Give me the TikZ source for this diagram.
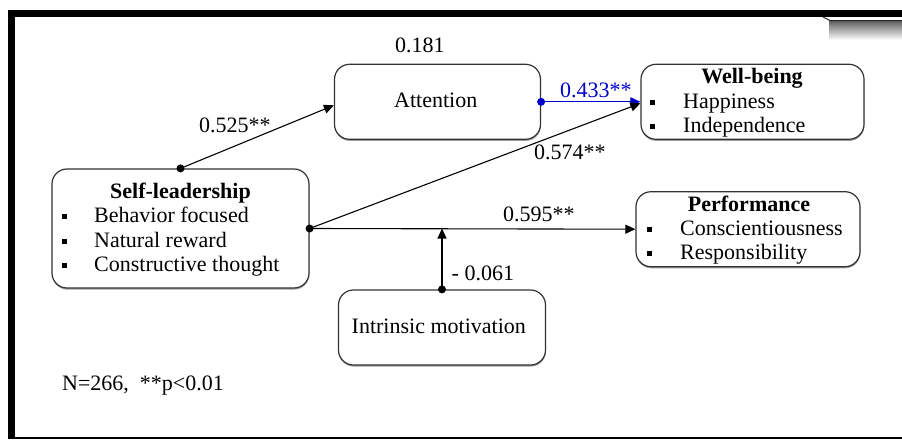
\documentclass[tikz,border=0pt]{standalone}
\usepackage{fontspec}
\setmainfont{Liberation Serif}
\usetikzlibrary{arrows.meta,shadows,calc}
\newcommand{\fsz}{\fontsize{22}{26}\selectfont}
\begin{document}
\begin{tikzpicture}[x=1pt,y=-1pt,
  box/.style={draw=black!80, line width=1.2pt, rounded corners=15pt, fill=white,
    drop shadow={shadow xshift=0.3pt, shadow yshift=-1.6pt, opacity=0.55, fill=black!70},
    inner sep=0pt},
  txt/.style={anchor=base west, inner sep=0pt, font=\fsz},
  ttl/.style={anchor=base, inner sep=0pt, font=\fsz\bfseries},
  lbl/.style={anchor=base west, inner sep=0pt, font=\fsz},
  bul/.style={fill=black, inner sep=0pt, minimum size=5pt},
  con/.style={line width=1.1pt, -{Triangle[length=10pt,width=9pt]}},
  dot/.style={circle, fill=#1, inner sep=0pt, minimum size=8pt},
  dot/.default=black]
\useasboundingbox (0,0) rectangle (902,439);
% frame
\fill[black] (7.5,10) rectangle (902,17);
\fill[black] (7.5,10) rectangle (15,439);
\fill[black] (7.5,436.5) rectangle (902,439);
% top-right artifact
\shade[top color=black!65, bottom color=white] (829,20) rectangle (902,40);
\draw[black!85, line width=1pt] (823,17) -- (830,20.5) -- (902,20.5);

% boxes
\node[box, minimum width=206pt, minimum height=75pt] (att) at (437.5,101.8) {};
\node[box, minimum width=223pt, minimum height=75pt] (wb) at (752.5,101.8) {};
\node[box, minimum width=224pt, minimum height=75pt] (perf) at (748,229.2) {};
\node[box, minimum width=257pt, minimum height=119pt] (sl) at (180.5,228.5) {};
\node[box, minimum width=207pt, minimum height=75pt] (im) at (442,327.5) {};

% texts
\node[txt] (attT) at (394,107.3) {Attention};
\node[txt] (imT) at (351.5,333.3) {Intrinsic motivation};

\node[ttl] (slT) at (180.5,198.3) {Self-leadership};
\node[bul] (b1) at (64.2,216.7) {};
\node[txt] (s1) at (94,222.7) {Behavior focused};
\node[bul] (b2) at (64.2,241.2) {};
\node[txt] (s2) at (94,247.2) {Natural reward};
\node[bul] (b3) at (64.2,265.7) {};
\node[txt] (s3) at (94,271.7) {Constructive thought};

\node[ttl] (wbT) at (752,83.3) {Well-being};
\node[bul] (b4) at (652.5,102.3) {};
\node[txt] (w1) at (683,108.3) {Happiness};
\node[bul] (b5) at (652.5,126.7) {};
\node[txt] (w2) at (683,132.7) {Independence};

\node[ttl] (pfT) at (749,211.7) {Performance};
\node[bul] (b6) at (649,229.7) {};
\node[txt] (p1) at (680,235.7) {Conscientiousness};
\node[bul] (b7) at (649,253.3) {};
\node[txt] (p2) at (680,259.3) {Responsibility};

% labels
\node[lbl] (l181) at (395,52.5) {0.181};
\node[lbl] (l525) at (199,132.7) {0.525**};
\node[lbl, text=blue!80!black] (l433) at (560,97.5) {0.433**};
\node[lbl] (l574) at (534,159.5) {0.574**};
\node[lbl] (l595) at (503,221.7) {0.595**};
\node[lbl] (l061) at (451.5,280) {- 0.061};
\node[lbl] (note) at (62,390) {N=266,\ \ **p<0.01};

% connectors
\coordinate (mid) at (im.north |- sl.east);
\draw[con] (sl.north) -- ([yshift=-3.5pt]att.west);
\draw[con, draw=blue!80!black, fill=blue!80!black] (att.east) -- (wb.west);
\draw[con] (sl.east) -- ([yshift=-1.5pt]wb.west);
\draw[con] (sl.east) -- (perf.west);
\draw[con] (im.north) -- (mid);
\node[dot] (d1) at (sl.north) {};
\node[dot] (d2) at (sl.east) {};
\node[dot] (d3) at (im.north) {};
\node[dot=blue!80!black] (d4) at (att.east) {};
\end{tikzpicture}
\end{document}
